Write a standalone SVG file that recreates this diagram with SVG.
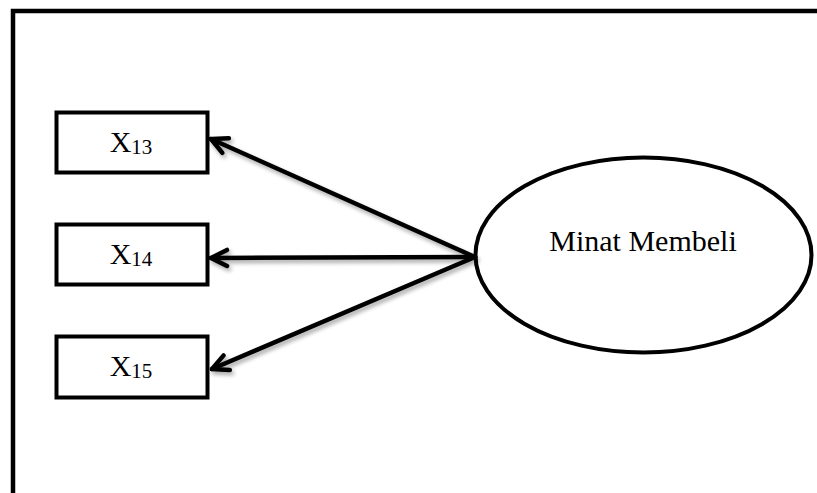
<svg xmlns="http://www.w3.org/2000/svg" width="817" height="493" viewBox="0 0 817 493">
  <style>
    .frame { fill: none; stroke: #000; stroke-width: 4.5; }
    .box { fill: #fff; stroke: #000; stroke-width: 4; }
    .latent { fill: #fff; stroke: #000; stroke-width: 4; }
    .lbl { font-family: "Liberation Serif", "Times New Roman", serif; font-size: 30px; fill: #000; }
    .sub { font-size: 21px; }
    .conn { fill: none; stroke: #000; stroke-width: 4.5; stroke-linecap: round; stroke-linejoin: round; }
  </style>
  <defs>
    <filter id="soft" x="-10%" y="-10%" width="120%" height="120%">
      <feGaussianBlur in="SourceAlpha" stdDeviation="2"/>
      <feOffset dx="2" dy="3" result="b"/>
      <feComponentTransfer><feFuncA type="linear" slope="0.35"/></feComponentTransfer>
      <feMerge><feMergeNode/><feMergeNode in="SourceGraphic"/></feMerge>
    </filter>
    <marker id="head" viewBox="0 0 22 22" refX="20" refY="11" markerWidth="22" markerHeight="22" markerUnits="userSpaceOnUse" orient="auto">
      <path d="M4 3 L20 11 L4 19" fill="none" stroke="#000" stroke-width="4.5" stroke-linecap="round" stroke-linejoin="miter"/>
    </marker>
  </defs>

  <rect width="817" height="493" fill="#fff"/>

  <!-- outer frame, open to the right and bottom edges -->
  <path class="frame" d="M13 500 L13 11 L830 11"/>

  <g id="x13">
    <rect class="box" x="56.5" y="112.5" width="151" height="60"/>
    <text class="lbl" x="131" y="152" text-anchor="middle">X<tspan class="sub" dy="2">13</tspan></text>
  </g>

  <g id="x14">
    <rect class="box" x="56.5" y="224.5" width="151" height="60"/>
    <text class="lbl" x="131" y="264" text-anchor="middle">X<tspan class="sub" dy="2">14</tspan></text>
  </g>

  <g id="x15">
    <rect class="box" x="56.5" y="336.5" width="151" height="61"/>
    <text class="lbl" x="131" y="376" text-anchor="middle">X<tspan class="sub" dy="2">15</tspan></text>
  </g>

  <g id="minat-membeli">
    <ellipse class="latent" cx="643.5" cy="255" rx="168" ry="97.5"/>
    <text class="lbl" x="643" y="251" text-anchor="middle">Minat Membeli</text>
  </g>

  <!-- connectors from the latent variable to its indicators -->
  <g id="connectors" filter="url(#soft)">
    <line class="conn" x1="475" y1="257" x2="211" y2="139" marker-end="url(#head)"/>
    <line class="conn" x1="475" y1="257" x2="211" y2="258" marker-end="url(#head)"/>
    <line class="conn" x1="475" y1="257" x2="212" y2="369" marker-end="url(#head)"/>
  </g>
</svg>
